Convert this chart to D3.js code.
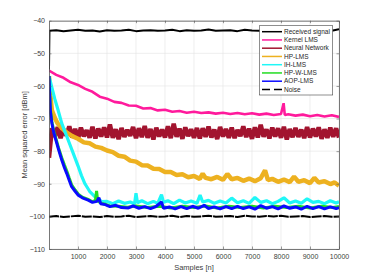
<!DOCTYPE html>
<html>
<head>
<meta charset="utf-8">
<script src="https://cdn.jsdelivr.net/npm/d3@7"></script>
<style>
  body { margin: 0; background: #fff; }
  svg { display: block; font-family: "Liberation Sans", Arial, sans-serif; }
</style>
</head>
<body>
<div id="chart"></div>
<script>
// Tick values
const xTicks = [1000, 2000, 3000, 4000, 5000, 6000, 7000, 8000, 9000, 10000];
const yTicks = [-40, -50, -60, -70, -80, -90, -100, -110];

// Series names, in plotting order
const seriesNames = ["Received signal", "Kernel LMS", "Neural Network", "HP-LMS", "IH-LMS", "HP-W-LMS", "AOP-LMS", "Noise"];

// [sample, dB]
const receivedSignal = [[0,-55],[15,-43.1],[250,-42.9],[500,-43.2],[750,-43.0],[1000,-42.8],[1250,-43.1],[1500,-43.0],[1750,-43.3],[2000,-42.9],[2250,-43.1],[2500,-43.0],[2750,-42.8],[3000,-43.2],[3250,-43.0],[3500,-42.9],[3750,-43.1],[4000,-43.0],[4250,-42.8],[4500,-43.2],[4750,-42.9],[5000,-43.1],[5250,-43.0],[5500,-42.7],[5750,-43.1],[6000,-43.0],[6250,-42.9],[6500,-43.2],[6750,-42.8],[7000,-43.0],[7250,-43.1],[7500,-42.9],[7750,-43.0],[8000,-42.7],[8250,-43.1],[8500,-43.0],[8750,-42.9],[9000,-43.2],[9250,-43.0],[9500,-42.9],[9750,-43.1],[10000,-42.6]];

const kernelLMS = [[0,-55.3],[250,-56.6],[500,-57.5],[750,-58.9],[1000,-59.7],[1250,-60.9],[1500,-61.8],[1750,-63.3],[2000,-63.9],[2250,-64.9],[2500,-65.2],[2750,-66.0],[3000,-66.1],[3250,-66.9],[3500,-66.8],[3750,-67.5],[4000,-67.3],[4250,-67.9],[4500,-67.7],[4750,-68.2],[5000,-67.9],[5250,-68.3],[5500,-68.1],[5750,-68.5],[6000,-68.2],[6250,-68.6],[6500,-68.3],[6750,-68.7],[7000,-68.4],[7250,-68.8],[7500,-68.5],[7750,-68.9],[8000,-68.6],[8090,-65.3],[8130,-68.9],[8250,-68.7],[8500,-69.1],[8750,-68.8],[9000,-69.3],[9250,-68.9],[9500,-69.4],[9750,-69.0],[10000,-69.5]];

// Neural Network, one value every 100 samples
const neuralNetwork = [
  -82.0, -73.0, -75.6, -72.6, -76.0, -73.4, -75.2, -72.4, -75.8, -73.2,
  -76.2, -72.8, -75.4, -73.6, -75.9, -72.5, -76.1, -73.1, -75.5, -72.7,
  -75.8, -71.8, -75.9, -73.3, -76.3, -72.9, -75.6, -73.5, -75.3, -72.6,
  -76.0, -73.0, -75.7, -72.3, -75.9, -73.2, -76.4, -72.8, -75.5, -73.4,
  -75.8, -72.4, -76.0, -71.6, -75.6, -73.1, -76.2, -72.7, -75.4, -73.3,
  -75.9, -72.9, -76.1, -73.0, -75.6, -72.5, -75.8, -73.4, -76.3, -72.6,
  -75.5, -73.2, -75.9, -72.8, -76.0, -73.5, -75.4, -72.4, -75.7, -73.1,
  -76.2, -72.7, -75.8, -71.9, -75.6, -73.3, -76.1, -72.8, -75.5, -73.0,
  -75.9, -72.5, -76.4, -73.2, -75.7, -72.9, -75.6, -73.4, -76.0, -72.6,
  -75.8, -73.1, -75.5, -72.7, -76.2, -73.3, -75.9, -72.8, -75.6, -73.0,
  -75.8
];

const hpLMS = [[0,-57],[50,-63],[100,-67.5],[200,-69.8],[300,-71.5],[450,-73],[600,-74.2],[800,-75.4],[1000,-76.2],[1200,-77.3],[1400,-77.6],[1600,-78.6],[1800,-79.0],[2000,-79.8],[2200,-80.3],[2400,-81.4],[2600,-81.7],[2800,-82.9],[3000,-83.2],[3200,-84.3],[3400,-84.4],[3600,-85.4],[3800,-85.5],[4000,-86.4],[4200,-86.4],[4400,-87.3],[4600,-87.1],[4800,-88.0],[5000,-87.6],[5200,-88.5],[5300,-86.9],[5400,-88.2],[5600,-88.6],[5800,-87.9],[6000,-88.8],[6150,-87.0],[6300,-88.6],[6500,-88.2],[6700,-89.1],[6900,-88.4],[7100,-89.2],[7300,-88.3],[7450,-85.9],[7550,-88.9],[7700,-88.5],[7900,-89.4],[8100,-88.7],[8300,-89.5],[8450,-87.8],[8600,-89.4],[8800,-88.9],[9000,-89.8],[9150,-88.2],[9300,-89.6],[9500,-89.2],[9700,-90.1],[9850,-89.6],[10000,-90.6]];

const ihLMS = [[0,-57],[100,-60.5],[200,-64],[300,-67],[440,-71.5],[550,-74],[700,-77.5],[850,-81],[1000,-84.5],[1120,-87.5],[1240,-90],[1400,-92.3],[1590,-94],[1700,-94.6],[1820,-95.5],[2000,-95.4],[2200,-96.1],[2400,-95.3],[2600,-96.0],[2800,-95.6],[2950,-96.2],[3000,-92.9],[3050,-95.8],[3200,-95.2],[3400,-96.1],[3600,-95.4],[3750,-96.0],[3880,-93.3],[3950,-95.7],[4100,-95.2],[4300,-96.1],[4500,-95.0],[4700,-95.9],[4900,-95.3],[5100,-96.0],[5210,-93.5],[5300,-95.6],[5500,-95.1],[5700,-96.0],[5900,-95.3],[6100,-95.9],[6300,-94.4],[6500,-95.8],[6700,-95.2],[6900,-96.0],[7100,-94.2],[7300,-95.7],[7500,-95.2],[7700,-96.1],[7900,-95.4],[8100,-94.3],[8300,-95.9],[8500,-95.3],[8700,-96.0],[8900,-94.6],[9100,-95.7],[9300,-95.4],[9500,-96.1],[9700,-95.2],[9900,-95.9],[10000,-95.5]];

const hpwLMS = [[0,-57],[20,-61.5],[50,-67.5],[100,-71],[170,-74],[250,-76.5],[330,-79],[440,-82],[530,-84.2],[610,-86],[700,-88.3],[780,-90.3],[900,-91.9],[1010,-93.2],[1150,-94.1],[1350,-94.8],[1500,-95.5],[1600,-95.1],[1640,-92.2],[1680,-95.3],[1800,-96.0],[1950,-96.3],[2100,-96.8],[2400,-96.9],[2700,-97.2],[3000,-96.8],[3400,-97.3],[3800,-96.9],[4200,-97.4],[4600,-96.9],[5000,-97.3],[5400,-96.8],[5800,-97.4],[6200,-96.9],[6600,-97.3],[7000,-96.9],[7400,-97.4],[7800,-96.9],[8200,-97.3],[8600,-96.9],[9000,-97.4],[9400,-96.9],[9800,-97.3],[10000,-97.0]];

const aopLMS = [[0,-57],[20,-62],[50,-68],[100,-71.5],[170,-74.5],[250,-77],[330,-79.5],[440,-82.7],[530,-85],[610,-86.8],[700,-89],[780,-90.9],[900,-92.3],[1010,-93.5],[1150,-94.3],[1350,-95],[1500,-95.7],[1650,-95.4],[1720,-94.3],[1780,-96.1],[1940,-96.4],[2100,-97.0],[2300,-96.6],[2500,-97.3],[2740,-97.4],[2900,-96.8],[3100,-97.5],[3300,-97.0],[3500,-97.6],[3700,-96.9],[3880,-95.6],[3950,-97.5],[4150,-97.1],[4350,-97.7],[4550,-97.0],[4750,-97.6],[4950,-96.9],[5150,-97.5],[5350,-96.6],[5500,-97.6],[5700,-97.1],[5900,-97.7],[6100,-97.0],[6300,-97.6],[6500,-96.9],[6700,-97.6],[6900,-97.1],[7100,-97.8],[7300,-96.7],[7500,-97.5],[7700,-97.0],[7900,-97.7],[8100,-96.8],[8300,-97.5],[8500,-97.1],[8700,-97.8],[8900,-96.9],[9100,-97.6],[9300,-97.0],[9500,-97.7],[9700,-97.1],[9900,-97.6],[10000,-97.3]];

const noise = [[0,-100.1],[250,-99.9],[500,-100.2],[750,-100.0],[1000,-99.8],[1250,-100.1],[1500,-100.0],[1750,-100.2],[2000,-99.9],[2250,-100.1],[2500,-100.0],[2750,-99.8],[3000,-100.2],[3250,-100.0],[3500,-99.9],[3750,-100.1],[4000,-100.0],[4250,-99.8],[4500,-100.2],[4750,-99.9],[5000,-100.1],[5250,-100.0],[5500,-99.8],[5750,-100.1],[6000,-100.0],[6250,-99.9],[6500,-100.2],[6750,-99.8],[7000,-100.0],[7250,-100.1],[7500,-99.9],[7750,-100.0],[8000,-99.8],[8250,-100.1],[8500,-100.0],[8750,-99.9],[9000,-100.2],[9250,-100.0],[9500,-99.9],[9750,-100.1],[10000,-100.0]];

const width = 374, height = 280;
const marginTop = 20.7, marginRight = 35, marginBottom = 31, marginLeft = 49;

const x = d3.scaleLinear().domain([0, 10000]).range([marginLeft, width - marginRight]);
const y = d3.scaleLinear().domain([-110, -40]).range([height - marginBottom, marginTop]);

const svg = d3.select("#chart").append("svg")
  .attr("width", width)
  .attr("height", height)
  .attr("viewBox", [0, 0, width, height]);

// Grid
svg.append("g")
  .selectAll("line")
  .data(xTicks)
  .join("line")
  .attr("x1", d => x(d)).attr("x2", d => x(d))
  .attr("y1", y(-40)).attr("y2", y(-110))
  .attr("stroke", "#e3e3e3").attr("stroke-width", 0.6);
svg.append("g")
  .selectAll("line")
  .data(yTicks)
  .join("line")
  .attr("x1", x(0)).attr("x2", x(10000))
  .attr("y1", d => y(d)).attr("y2", d => y(d))
  .attr("stroke", "#e3e3e3").attr("stroke-width", 0.6);

// Lines
svg.append("clipPath").attr("id", "clip")
  .append("rect")
  .attr("x", x(0)).attr("y", y(-40))
  .attr("width", x(10000) - x(0)).attr("height", y(-110) - y(-40));

const plot = svg.append("g").attr("clip-path", "url(#clip)");
const line = d3.line().x(d => x(d[0])).y(d => y(d[1]));

const nnPairs = neuralNetwork.map((v, i) => [i * 100, v]);

const series = [
  { data: receivedSignal, color: "#000000", w: 2 },
  { data: kernelLMS, color: "#ff1a9c", w: 2.6 },
  { data: nnPairs, color: "#a2142f", w: 4.5 },
  { data: hpLMS, color: "#edb120", w: 4.5 },
  { data: ihLMS, color: "#1ff7f7", w: 3.2 },
  { data: hpwLMS, color: "#22dd22", w: 3 },
  { data: aopLMS, color: "#0a0aff", w: 3 },
  { data: noise, color: "#000000", w: 2, dash: "10,1" }
];

series.forEach(s => {
  plot.append("path")
    .datum(s.data)
    .attr("fill", "none")
    .attr("stroke", s.color)
    .attr("stroke-width", s.w)
    .attr("stroke-linejoin", "bevel")
    .attr("stroke-dasharray", s.dash || null)
    .attr("d", line);
});

// Axes box with inward ticks
const axisColor = "#555";
const xAxisBottom = svg.append("g")
  .attr("transform", `translate(0,${y(-110)})`)
  .call(d3.axisBottom(x).tickValues(xTicks).tickFormat(d3.format("d")).tickSize(-2.5).tickPadding(5).tickSizeOuter(0));
const xAxisTop = svg.append("g")
  .attr("transform", `translate(0,${y(-40)})`)
  .call(d3.axisTop(x).tickValues(xTicks).tickSize(-2.5).tickFormat("").tickSizeOuter(0));
const yAxisLeft = svg.append("g")
  .attr("transform", `translate(${x(0)},0)`)
  .call(d3.axisLeft(y).tickValues(yTicks).tickSize(-2.5).tickPadding(4).tickSizeOuter(0));
const yAxisRight = svg.append("g")
  .attr("transform", `translate(${x(10000)},0)`)
  .call(d3.axisRight(y).tickValues(yTicks).tickSize(-2.5).tickFormat("").tickSizeOuter(0));

[xAxisBottom, xAxisTop, yAxisLeft, yAxisRight].forEach(g => {
  g.select(".domain").attr("stroke", axisColor).attr("stroke-width", 0.8);
  g.selectAll(".tick line").attr("stroke", axisColor).attr("stroke-width", 0.6);
  g.selectAll("text").attr("fill", "#404040").attr("font-size", "7px")
    .attr("font-family", "'Liberation Sans', Arial, sans-serif");
});

// Axis labels
svg.append("text")
  .attr("x", (x(0) + x(10000)) / 2)
  .attr("y", 270)
  .attr("text-anchor", "middle")
  .attr("font-size", "7.5px")
  .attr("fill", "#404040")
  .text("Samples [n]");

svg.append("text")
  .attr("transform", `translate(27,${(y(-40) + y(-110)) / 2}) rotate(-90)`)
  .attr("text-anchor", "middle")
  .attr("font-size", "7.5px")
  .attr("fill", "#404040")
  .text("Mean squared error [dBm]");

// Legend
const legend = svg.append("g").attr("transform", "translate(259.5,25.7)");
legend.append("rect")
  .attr("width", 73.2).attr("height", 69.3)
  .attr("fill", "#fff").attr("stroke", "#444").attr("stroke-width", 0.6);

series.forEach((s, i) => {
  const ly = 6 + i * 8.25;
  legend.append("line")
    .attr("x1", 2.5).attr("x2", 22.5)
    .attr("y1", ly).attr("y2", ly)
    .attr("stroke", s.color)
    .attr("stroke-width", 1.5)
    .attr("stroke-dasharray", s.dash ? "8,4" : null);
  legend.append("text")
    .attr("x", 24.5).attr("y", ly + 2.3)
    .attr("font-size", "6.5px")
    .attr("fill", "#262626")
    .text(seriesNames[i]);
});
</script>
</body>
</html>
